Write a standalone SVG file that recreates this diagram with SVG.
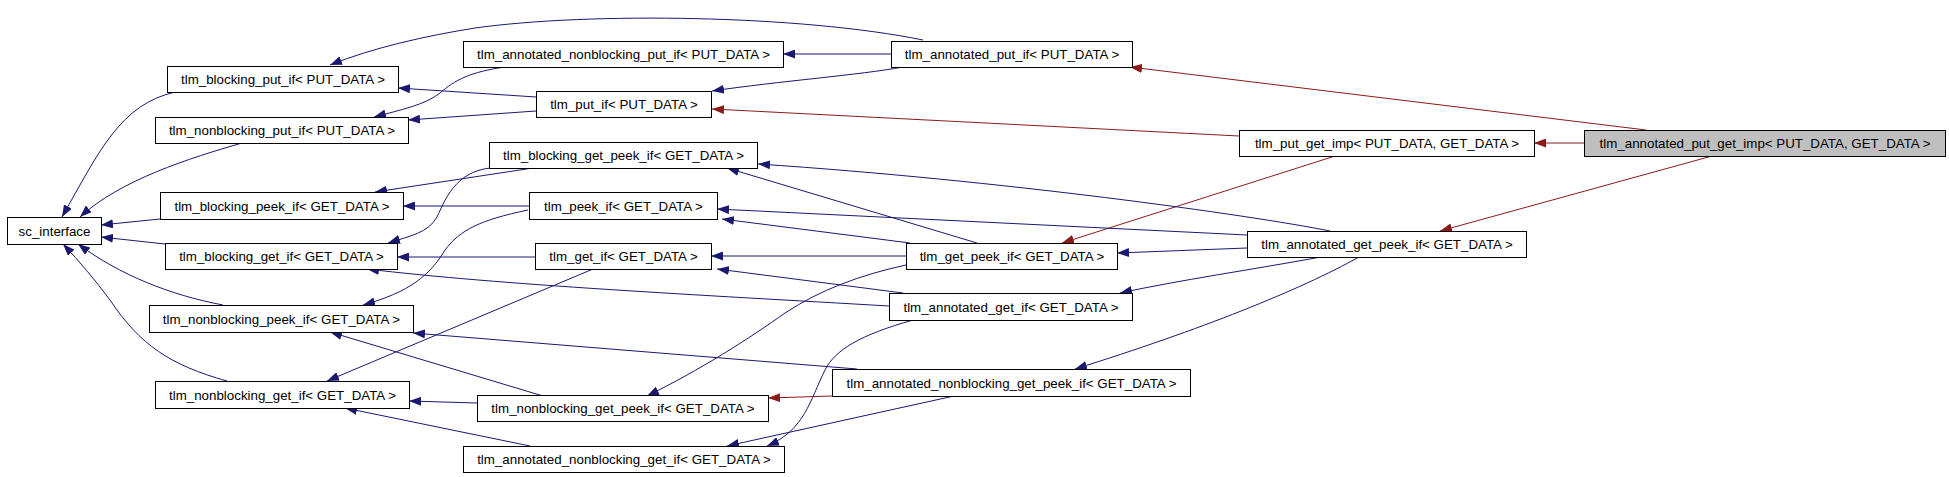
<svg xmlns="http://www.w3.org/2000/svg" width="1949" height="477" viewBox="0 0 1949 477">
<style>
.node rect{fill:#ffffff;stroke:#000000;stroke-width:1}
.node rect.hl{fill:#bfbfbf}
.node text{font-family:"Liberation Sans",Arial,Helvetica,sans-serif;font-size:13.33px;text-anchor:middle;fill:#000000}
.e{fill:none;stroke:#191970;stroke-width:1;marker-end:url(#ab)}
.e.r{stroke:#8b1a1a;marker-end:url(#ar)}
</style>
<defs>
<marker id="ab" viewBox="0 0 12 9" refX="12" refY="4.5" markerWidth="12" markerHeight="9" orient="auto" markerUnits="userSpaceOnUse"><path d="M0,0 L12,4.5 L0,9 z" fill="#191970"/></marker>
<marker id="ar" viewBox="0 0 12 9" refX="12" refY="4.5" markerWidth="12" markerHeight="9" orient="auto" markerUnits="userSpaceOnUse"><path d="M0,0 L12,4.5 L0,9 z" fill="#8b1a1a"/></marker>
</defs>
<rect x="0" y="0" width="1949" height="477" fill="#ffffff"/>
<g id="connectors">
<path class="e" d="M923,40 C800,15 590,12 475,28 C425,36 372,48 330,65"/>
<path class="e" d="M891,54 L783,54"/>
<path class="e" d="M903,67 C860,75 780,81 712,91"/>
<path class="e" d="M505,67 C470,72 455,80 440,93 C425,105 400,110 374,117"/>
<path class="e" d="M536,97 L398,88"/>
<path class="e" d="M536,111 L408,120"/>
<path class="e r" d="M1239,136 L712,109"/>
<path class="e r" d="M1584,143 L1534,143"/>
<path class="e r" d="M1646,130 L1130,67"/>
<path class="e r" d="M1712,156 L1440,231"/>
<path class="e r" d="M1335,156 L1062,243"/>
<path class="e" d="M175,92 C120,105 100,150 62,217"/>
<path class="e" d="M242,143 C190,158 120,180 80,217"/>
<path class="e" d="M160,219 L101,225"/>
<path class="e" d="M165,244 L101,237"/>
<path class="e" d="M223,305 C170,295 120,275 78,244"/>
<path class="e" d="M227,381 C170,365 140,345 110,300 C95,280 80,262 63,244"/>
<path class="e" d="M533,168 L375,192"/>
<path class="e" d="M490,168 C455,172 445,200 437,217 C428,233 410,236 388,243"/>
<path class="e" d="M529,206 L403,206"/>
<path class="e" d="M528,210 C480,220 460,230 445,250 C430,275 410,292 363,305"/>
<path class="e" d="M535,257 L397,257"/>
<path class="e" d="M593,269 L327,381"/>
<path class="e" d="M977,243 L727,168"/>
<path class="e" d="M910,243 L722,219"/>
<path class="e" d="M906,256 L711,256"/>
<path class="e" d="M906,265 C860,275 820,290 785,313 C750,338 700,370 647,396"/>
<path class="e" d="M1330,231 C1250,215 1000,180 758,164"/>
<path class="e" d="M1247,235 L717,209"/>
<path class="e" d="M1247,248 L1117,253"/>
<path class="e" d="M1321,257 C1250,270 1180,280 1120,293"/>
<path class="e" d="M1359,257 C1300,290 1200,330 1075,369"/>
<path class="e" d="M903,293 L717,269"/>
<path class="e" d="M889,306 C700,295 500,285 367,269"/>
<path class="e" d="M913,320 C860,335 835,350 825,370 C810,400 805,430 767,446"/>
<path class="e" d="M857,369 L413,333"/>
<path class="e" d="M543,396 L330,332"/>
<path class="e" d="M477,403 L409,401"/>
<path class="e r" d="M832,396 L768,398"/>
<path class="e" d="M954,396 L727,446"/>
<path class="e" d="M530,446 L345,408"/>
</g>
<g id="sc_interface" class="node"><rect x="7.5" y="217.5" width="94" height="27"/><text x="54.5" y="235.5">sc_interface</text></g>
<g id="tlm_blocking_put_if" class="node"><rect x="167.5" y="66.5" width="231" height="26"/><text x="283" y="84">tlm_blocking_put_if&lt; PUT_DATA &gt;</text></g>
<g id="tlm_nonblocking_put_if" class="node"><rect x="155.5" y="117.5" width="253" height="26"/><text x="282" y="135">tlm_nonblocking_put_if&lt; PUT_DATA &gt;</text></g>
<g id="tlm_blocking_peek_if" class="node"><rect x="160.5" y="192.5" width="243" height="27"/><text x="282" y="210.5">tlm_blocking_peek_if&lt; GET_DATA &gt;</text></g>
<g id="tlm_blocking_get_if" class="node"><rect x="165.5" y="243.5" width="232" height="26"/><text x="281.5" y="261">tlm_blocking_get_if&lt; GET_DATA &gt;</text></g>
<g id="tlm_nonblocking_peek_if" class="node"><rect x="149.5" y="305.5" width="264" height="27"/><text x="281.5" y="323.5">tlm_nonblocking_peek_if&lt; GET_DATA &gt;</text></g>
<g id="tlm_nonblocking_get_if" class="node"><rect x="155.5" y="381.5" width="254" height="27"/><text x="282.5" y="399.5">tlm_nonblocking_get_if&lt; GET_DATA &gt;</text></g>
<g id="tlm_annotated_nonblocking_put_if" class="node"><rect x="463.5" y="41.5" width="320" height="26"/><text x="623.5" y="59">tlm_annotated_nonblocking_put_if&lt; PUT_DATA &gt;</text></g>
<g id="tlm_put_if" class="node"><rect x="536.5" y="91.5" width="175" height="26"/><text x="624" y="109">tlm_put_if&lt; PUT_DATA &gt;</text></g>
<g id="tlm_annotated_put_if" class="node"><rect x="891.5" y="41.5" width="241" height="26"/><text x="1012" y="59">tlm_annotated_put_if&lt; PUT_DATA &gt;</text></g>
<g id="tlm_blocking_get_peek_if" class="node"><rect x="489.5" y="142.5" width="268" height="26"/><text x="623.5" y="160">tlm_blocking_get_peek_if&lt; GET_DATA &gt;</text></g>
<g id="tlm_peek_if" class="node"><rect x="529.5" y="192.5" width="188" height="27"/><text x="623.5" y="210.5">tlm_peek_if&lt; GET_DATA &gt;</text></g>
<g id="tlm_get_if" class="node"><rect x="535.5" y="243.5" width="176" height="26"/><text x="623.5" y="261">tlm_get_if&lt; GET_DATA &gt;</text></g>
<g id="tlm_get_peek_if" class="node"><rect x="906.5" y="243.5" width="211" height="26"/><text x="1012" y="261">tlm_get_peek_if&lt; GET_DATA &gt;</text></g>
<g id="tlm_annotated_get_if" class="node"><rect x="889.5" y="293.5" width="243" height="27"/><text x="1011" y="311.5">tlm_annotated_get_if&lt; GET_DATA &gt;</text></g>
<g id="tlm_annotated_get_peek_if" class="node"><rect x="1247.5" y="231.5" width="279" height="26"/><text x="1387" y="249">tlm_annotated_get_peek_if&lt; GET_DATA &gt;</text></g>
<g id="tlm_annotated_nonblocking_get_peek_if" class="node"><rect x="832.5" y="369.5" width="358" height="27"/><text x="1011.5" y="387.5">tlm_annotated_nonblocking_get_peek_if&lt; GET_DATA &gt;</text></g>
<g id="tlm_nonblocking_get_peek_if" class="node"><rect x="477.5" y="395.5" width="291" height="26"/><text x="623" y="413">tlm_nonblocking_get_peek_if&lt; GET_DATA &gt;</text></g>
<g id="tlm_annotated_nonblocking_get_if" class="node"><rect x="463.5" y="446.5" width="321" height="26"/><text x="624" y="464">tlm_annotated_nonblocking_get_if&lt; GET_DATA &gt;</text></g>
<g id="tlm_put_get_imp" class="node"><rect x="1239.5" y="130.5" width="295" height="26"/><text x="1387" y="148">tlm_put_get_imp&lt; PUT_DATA, GET_DATA &gt;</text></g>
<g id="tlm_annotated_put_get_imp" class="node"><rect class="hl" x="1584.5" y="130.5" width="361" height="26"/><text x="1765" y="148">tlm_annotated_put_get_imp&lt; PUT_DATA, GET_DATA &gt;</text></g>
</svg>
